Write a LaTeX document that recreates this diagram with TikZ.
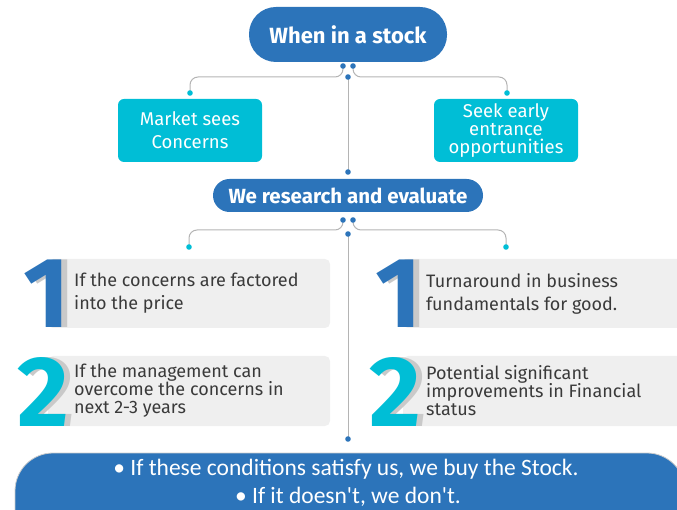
\documentclass[tikz,border=0pt]{standalone}
\usepackage{fontspec}
\setmainfont{Fira Sans}
\newfontfamily\bottomfont{Carlito}
\usetikzlibrary{positioning}
\definecolor{darkblue}{HTML}{2C74BA}
\definecolor{skyblue}{HTML}{00BED6}
\definecolor{panelgray}{HTML}{EFEFEF}
\definecolor{shadegray}{HTML}{C9C9C9}
\definecolor{linkgray}{HTML}{B4B4B4}
\definecolor{inkgray}{HTML}{3A3A3A}
\newcommand{\bignum}[2]{\makebox[0pt][l]{\hspace{6pt}\textcolor{shadegray}{#2}}\textcolor{#1}{#2}}

\begin{document}
\begin{tikzpicture}[x=1pt,y=-1pt,
  pill/.style={fill=darkblue,text=white,inner sep=0,font=\bfseries\fontsize{22}{24}\selectfont},
  cbox/.style={fill=skyblue,text=white,rounded corners=6pt,minimum width=144pt,minimum height=63pt,inner sep=0,align=center,font=\fontsize{18.5}{23}\selectfont},
  panel/.style={fill=panelgray,rounded corners=5pt,minimum height=69pt,inner sep=0},
  num/.style={font=\bfseries\fontsize{100}{100}\selectfont,inner sep=0,anchor=base east},
  ptext/.style={anchor=west,text=inkgray,align=left,inner sep=0,font=\fontsize{18}{23}\selectfont},
  tight/.style={font=\fontsize{18}{18}\selectfont},
  btext/.style={text=white,inner sep=0,font=\bottomfont\fontsize{23.5}{26}\selectfont},
  link/.style={draw=linkgray,line width=1pt,rounded corners=8pt}]
\useasboundingbox (0,0) rectangle (677,510);

% boxes
\node[pill,minimum width=198pt,minimum height=55pt,rounded corners=27pt] (stock) at (348,34.5) {When in a stock};
\node[cbox] (concern) at (190,130.5) {Market sees\\Concerns};
\node[cbox,font=\fontsize{18.5}{18}\selectfont] (entry) at (506,130.5) {Seek early\\entrance\\opportunities};
\node[pill,minimum width=270pt,minimum height=33pt,rounded corners=16.5pt,font=\bfseries\fontsize{20.5}{22}\selectfont] (research) at (348,195.5) {We research and evaluate};

% dots and links
\coordinate (s1) at (343,66);
\coordinate (s2) at (353,66);
\coordinate (s3) at (348,77);
\coordinate (sk) at (348,77);
\coordinate (sl) at (190,93);
\coordinate (sr) at (507,93);
\coordinate (r0) at (348,172);
\coordinate (e1) at (343,220);
\coordinate (e2) at (353,220);
\coordinate (e3) at (348,234);
\coordinate (ek) at (348,230);
\coordinate (el) at (189,247);
\coordinate (er) at (506,247);
\coordinate (b0) at (348,439);

\draw[link] (s1) |- (sl |- sk) -- (sl);
\draw[link] (s2) |- (sr |- sk) -- (sr);
\draw[link] (s3) -- (r0);
\draw[link] (e1) |- (el |- ek) -- (el);
\draw[link] (e2) |- (er |- ek) -- (er);
\draw[link] (e3) -- (b0);
\foreach \d in {s1,s2,s3,r0,e1,e2,e3,b0}
  \fill[darkblue] (\d) circle[radius=2.8pt];
\foreach \d in {sl,sr,el,er}
  \fill[skyblue] (\d) circle[radius=2.8pt];

% conditions
\node[panel,minimum width=282pt] (f1) at (189,293.5) {};
\node[panel,minimum width=282pt,minimum height=70pt] (f2) at (189,391) {};
\node[panel,minimum width=290pt] (g1) at (548,293.5) {};
\node[panel,minimum width=290pt,minimum height=70pt] (g2) at (548,391) {};

\node[num] (n1) at (70,328) {\bignum{darkblue}{1}};
\node[num] (n2) at (69,426) {\bignum{skyblue}{2}};
\node[num] (m1) at (422,328) {\bignum{darkblue}{1}};
\node[num] (m2) at (421,426) {\bignum{skyblue}{2}};

\node[ptext] (t1) at (74,293.5) {If the concerns are factored\\into the price};
\node[ptext,tight] (t2) at (74,391) {If the management can\\overcome the concerns in\\next 2-3 years};
\node[ptext] (u1) at (426,293.5) {Turnaround in business\\fundamentals for good.};
\node[ptext,tight] (u2) at (426,391) {Potential significant\\improvements in Financial\\status};

% verdict
\node[pill,draw=black!20,line width=0.8pt,minimum width=670pt,minimum height=110pt,rounded corners=38pt] (verdict) at (350,508) {};
\node[btext] (v1) at (346,469) {• If these conditions satisfy us, we buy the Stock.};
\node[btext] (v2) at (348,497) {• If it doesn't, we don't.};
\end{tikzpicture}
\end{document}
